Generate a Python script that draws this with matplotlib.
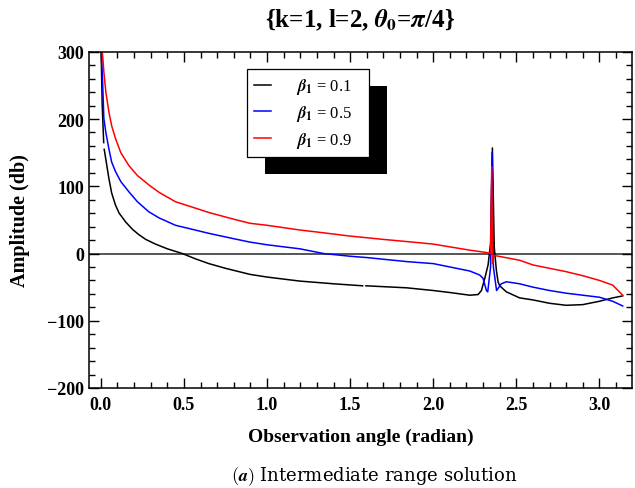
import numpy as np
import matplotlib
matplotlib.use("Agg")
import matplotlib.pyplot as plt
from matplotlib.patches import Rectangle

plt.rcParams['font.family'] = 'Liberation Serif'
plt.rcParams['font.weight'] = 'bold'
plt.rcParams['mathtext.fontset'] = 'stix'

# valores (angulo en radianes, amplitud en db)
x_b1 = [0.0, 0.008, 0.017, np.nan, 0.02, 0.03, 0.048, 0.065, 0.088, 0.11, 0.149, 0.19,
        0.229, 0.27, 0.329, 0.4, 0.49, 0.57, 0.65, 0.75, 0.897, 1.0, 1.197, 1.4,
        1.575, np.nan, 1.595, 1.84, 2.0, 2.1, 2.22, 2.27, 2.29, 2.31, 2.33, 2.345,
        2.356, 2.367, 2.38, 2.39, 2.40, 2.44, 2.52, 2.60, 2.70, 2.80, 2.90, 3.0,
        3.08, 3.14]
y_b1 = [320, 221, 165, np.nan, 155, 140, 112, 90, 72, 60, 47, 36,
        28, 21, 14, 7, 0, -8, -15, -22, -31, -35, -41, -45,
        -48, np.nan, -48, -51, -55, -58, -62, -61, -55, -37, -17, 15,
        157, 10, -25, -42, -48, -57, -66, -69, -74, -77, -76, -71,
        -66, -63]

x_b5 = [0.0, 0.012, 0.018, 0.03, 0.048, 0.065, 0.088, 0.12, 0.168, 0.22, 0.289, 0.35,
        0.449, 0.55, 0.65, 0.8, 0.897, 1.0, 1.197, 1.34, 1.498, 1.6, 1.84, 2.0,
        2.22, 2.28, 2.30, 2.32, 2.328, 2.345, 2.354, 2.362, 2.381, 2.41, 2.44, 2.52,
        2.60, 2.70, 2.80, 2.90, 3.0, 3.08, 3.14]
y_b5 = [320, 245, 201, 180, 156, 136, 122, 107, 92, 77, 62, 53,
        42, 36, 30, 22, 17, 13, 7, 0, -4, -6, -12, -15,
        -26, -32, -37, -55, -57, -20, 150, -20, -55, -45, -42, -45,
        -50, -55, -59, -62, -65, -71, -78]

x_b9 = [0.0, 0.012, 0.018, 0.03, 0.048, 0.065, 0.088, 0.12, 0.168, 0.22, 0.289, 0.35,
        0.449, 0.55, 0.65, 0.8, 0.897, 1.0, 1.197, 1.3, 1.498, 1.7, 1.919, 2.0,
        2.22, 2.32, 2.345, 2.352, 2.357, 2.364, 2.381, 2.52, 2.60, 2.70, 2.80, 2.90,
        3.0, 3.08, 3.14]
y_b9 = [320, 290, 270, 240, 211, 190, 171, 150, 131, 116, 102, 91,
        77, 69, 61, 51, 45, 42, 35, 32, 26, 21, 16, 14,
        5, 1.5, 0, 129, -15, -3, -3.5, -10, -17, -22, -27, -33,
        -40, -47, -62]

etiquetas = [r'$\beta_1$ = 0.1', r'$\beta_1$ = 0.5', r'$\beta_1$ = 0.9']
colores = ['black', 'blue', 'red']

fig = plt.figure(figsize=(6.35, 4.89), dpi=100)
ax = fig.add_axes([0.140, 0.2045, 0.855, 0.6875])

ax.axhline(0, color='#555555', linewidth=1.4, zorder=1)
for xs, ys, lab, c in zip([x_b1, x_b5, x_b9], [y_b1, y_b5, y_b9], etiquetas, colores):
    ax.plot(xs, ys, color=c, linewidth=1.1, label=lab, zorder=2)

ax.set_xlim(-0.072, 3.195)
ax.set_ylim(-200, 300)
ax.set_xticks(np.arange(0, 3.01, 0.5))
ax.set_xticks(np.arange(0, 3.2, 0.1), minor=True)
ax.set_yticks(np.arange(-200, 301, 100))
ax.set_yticks(np.arange(-200, 301, 20), minor=True)
ax.set_xticklabels(['0.0', '0.5', '1.0', '1.5', '2.0', '2.5', '3.0'])
ax.set_yticklabels(['\u2212200', '\u2212100', '0', '100', '200', '300'])
ax.tick_params(which='both', direction='in', top=True, right=True, labelsize=13)
ax.tick_params(which='major', length=7, width=1)
ax.tick_params(which='minor', length=4, width=1)
ax.tick_params(axis='x', pad=6)
for lbl in ax.get_xticklabels() + ax.get_yticklabels():
    lbl.set_fontweight('bold')
for s in ax.spines.values():
    s.set_linewidth(1.1)

ax.set_xlabel('Observation angle (radian)', fontsize=14, fontweight='bold', labelpad=10)
ax.set_ylabel('Amplitude (db)', fontsize=14.5, fontweight='bold', labelpad=12)
ax.set_title(r'{k=1, l=2, $\theta_0$=$\pi$/4}', fontsize=18, fontweight='bold', pad=18)

leg = ax.legend(loc='upper left', bbox_to_anchor=(0.291, 0.949), fontsize=12,
                handlelength=1.0, handletextpad=1.5, borderpad=0.45, labelspacing=0.4,
                fancybox=False, framealpha=1, edgecolor='black', borderaxespad=0)
leg.get_frame().set_linewidth(0.9)
leg.set_zorder(5)
for t in leg.get_texts():
    t.set_fontweight('normal')
    t.set_text(t.get_text() + '   ')

# sombra negra detras de la leyenda
fig.canvas.draw()
bb = leg.get_window_extent().transformed(fig.transFigure.inverted())
dx, dy = 18 / 635, -17 / 489
ax.add_patch(Rectangle((bb.x0 + dx, bb.y0 + dy), bb.width, bb.height,
                       transform=fig.transFigure, facecolor='black',
                       edgecolor='none', zorder=4, clip_on=False))

fig.text(0.59, 0.0245, r'$(\mathbfit{a})$ Intermediate range solution', ha='center', va='center',
         fontsize=13, family='DejaVu Serif', fontweight='normal',
         math_fontfamily='cm')

fig.savefig('out.png', dpi=100)
